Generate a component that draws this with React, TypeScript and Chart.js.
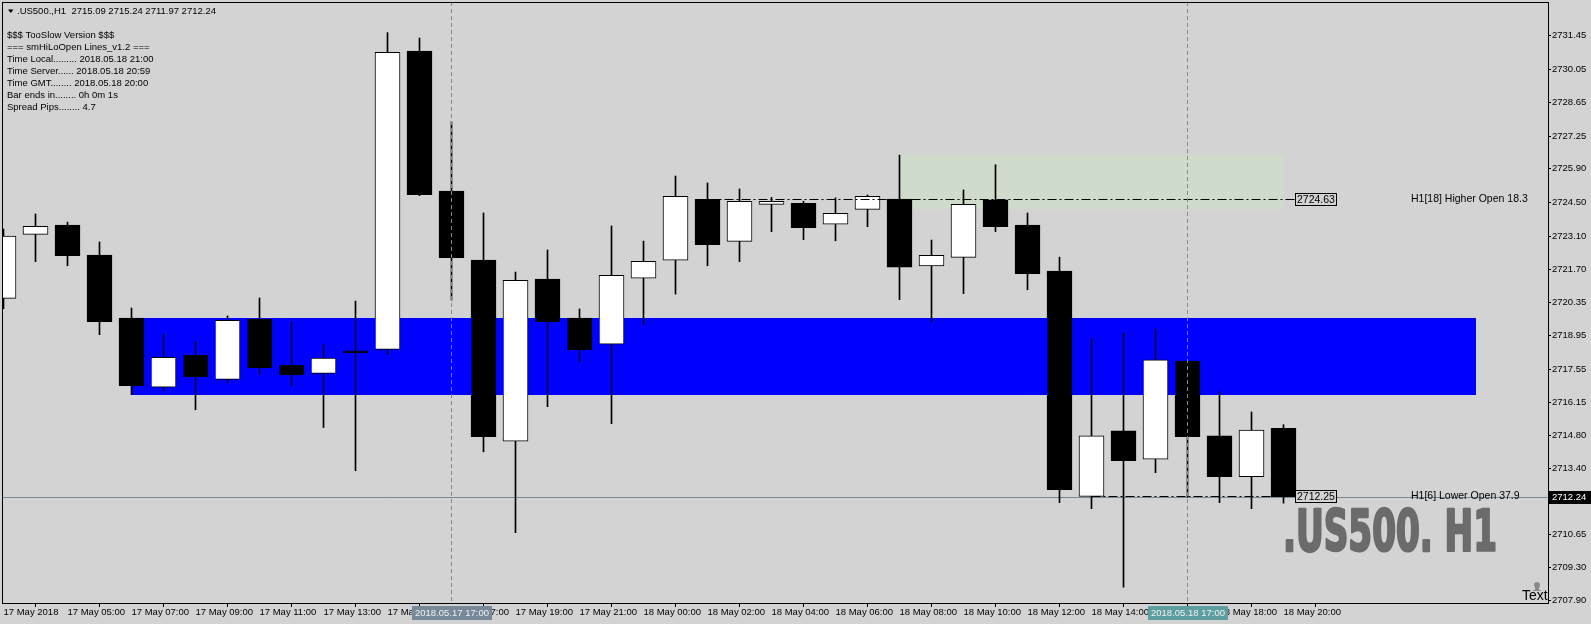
import React, { useEffect, useRef } from 'react';
import { Chart, registerables } from 'chart.js';

Chart.register(...registerables);

// ---- candle data (H1 bars, 17 May 03:00 .. 18 May 20:00) ----
const opens = [
  2720.50, 2723.17, 2723.56, 2722.31, 2719.68, 2716.80, 2718.13, 2717.13, 2719.63, 2717.71,
  2717.38, 2718.32, 2718.38, 2730.80, 2724.97, 2722.10, 2714.55, 2721.31, 2719.68, 2718.59,
  2721.34, 2722.09, 2724.63, 2722.88, 2724.42, 2724.46, 2723.59, 2724.21, 2724.64, 2721.85,
  2722.21, 2724.61, 2723.56, 2721.64, 2712.25, 2714.98, 2713.80, 2717.89, 2714.77, 2713.07,
  2715.09,
];
const highs = [
  2723.39, 2724.02, 2723.68, 2722.85, 2720.10, 2719.02, 2718.71, 2719.77, 2720.52, 2719.52,
  2718.60, 2720.39, 2731.58, 2731.35, 2727.86, 2724.06, 2721.60, 2722.52, 2720.06, 2723.52,
  2722.89, 2725.60, 2725.31, 2725.06, 2724.71, 2724.55, 2724.69, 2724.81, 2726.47, 2722.93,
  2725.02, 2726.07, 2724.06, 2722.22, 2718.81, 2719.06, 2719.23, 2717.89, 2716.61, 2715.77,
  2715.24,
];
const lows = [
  2720.07, 2722.03, 2721.86, 2718.99, 2716.49, 2716.66, 2715.86, 2716.98, 2717.35, 2716.86,
  2715.12, 2713.32, 2718.16, 2724.78, 2720.43, 2714.11, 2710.74, 2715.99, 2717.86, 2715.28,
  2719.41, 2720.68, 2721.86, 2722.03, 2723.28, 2722.95, 2722.90, 2723.49, 2720.45, 2719.53,
  2720.70, 2723.28, 2720.86, 2711.99, 2711.74, 2708.47, 2713.24, 2712.22, 2711.99, 2711.74,
  2711.97,
];
const closes = [
  2723.10, 2723.50, 2722.28, 2719.53, 2716.86, 2718.05, 2717.23, 2719.59, 2717.61, 2717.31,
  2718.01, 2718.24, 2730.75, 2724.82, 2722.20, 2714.74, 2721.25, 2719.53, 2718.36, 2721.46,
  2722.05, 2724.75, 2722.74, 2724.54, 2724.54, 2723.45, 2724.05, 2724.75, 2721.80, 2722.30,
  2724.42, 2723.49, 2721.53, 2712.53, 2714.77, 2713.74, 2717.94, 2714.74, 2713.07, 2715.01,
  2712.24,
];

// ---- axis ticks ----
const xTickBars = [0, 2, 4, 6, 8, 10, 12, 14, 16, 18, 20, 22, 24, 26, 28, 30, 32, 34, 36, 38, 40];
const xTickLabels = [
  '17 May 2018', '17 May 05:00', '17 May 07:00', '17 May 09:00', '17 May 11:00', '17 May 13:00',
  '17 May 15:00', '17 May 17:00', '17 May 19:00', '17 May 21:00', '18 May 00:00', '18 May 02:00',
  '18 May 04:00', '18 May 06:00', '18 May 08:00', '18 May 10:00', '18 May 12:00', '18 May 14:00',
  '18 May 16:00', '18 May 18:00', '18 May 20:00',
];
const yTickValues = [
  2731.45, 2730.05, 2728.65, 2727.25, 2725.90, 2724.50, 2723.10, 2721.70, 2720.35,
  2718.95, 2717.55, 2716.15, 2714.80, 2713.40, 2712.05, 2710.65, 2709.30, 2707.90,
];
const yMin = 2707.81;
const yMax = 2732.85;
const xMin = -0.046875;
const xMax = 48.265625;

// ---- indicator objects ----
const zoneStartBar = [4, 28];
const zoneEndBar = [46, 40];
const zoneHigh = [2719.68, 2726.47];
const zoneLow = [2716.49, 2724.22];

const openLineBar = [22, 34];
const openLinePrice = [2724.63, 2712.25];
const openLineText = ['H1[18] Higher Open 18.3', 'H1[6] Lower Open 37.9'];

const markerBar = [14, 37];
const markerText = ['2018.05.17 17:00', '2018.05.18 17:00'];

const currentPrice = 2712.24;
const headerText = '.US500.,H1  2715.09 2715.24 2711.97 2712.24';
const infoLines = [
  '$$$ TooSlow Version $$$',
  '=== smHiLoOpen Lines_v1.2 ===',
  'Time Local......... 2018.05.18 21:00',
  'Time Server...... 2018.05.18 20:59',
  'Time GMT........ 2018.05.18 20:00',
  'Bar ends in........ 0h 0m 1s',
  'Spread Pips........ 4.7',
];
const watermark = '.US500. H1';
const cornerText = 'Text';

const FONT = '"Liberation Sans", Arial, sans-serif';
const BG = '#d3d3d3';

const overlay = {
  id: 'mtOverlay',
  beforeDatasetsDraw(chart: any) {
    const { ctx, chartArea: a, scales } = chart;
    const x = scales.x;
    const y = scales.y;
    ctx.save();
    ctx.beginPath();
    ctx.rect(a.left, a.top, a.right - a.left, a.bottom - a.top);
    ctx.clip();
    const zoneColors = ['#0000ff', '#cfdbcb'];
    for (let k = 0; k < zoneStartBar.length; k++) {
      const x0 = Math.round(x.getPixelForValue(zoneStartBar[k]));
      const x1 = Math.round(x.getPixelForValue(zoneEndBar[k]));
      const y0 = Math.round(y.getPixelForValue(zoneHigh[k]));
      const y1 = Math.round(y.getPixelForValue(zoneLow[k]));
      ctx.fillStyle = zoneColors[k];
      ctx.fillRect(x0, y0, x1 - x0, y1 - y0);
    }
    const py = Math.round(y.getPixelForValue(currentPrice)) + 0.5;
    ctx.strokeStyle = '#778899';
    ctx.lineWidth = 1;
    ctx.beginPath();
    ctx.moveTo(a.left, py);
    ctx.lineTo(a.right, py);
    ctx.stroke();
    ctx.restore();
  },
  afterDatasetsDraw(chart: any) {
    const { ctx, chartArea: a, scales } = chart;
    const x = scales.x;
    const y = scales.y;
    ctx.save();
    ctx.beginPath();
    ctx.rect(a.left, a.top, a.right - a.left, a.bottom - a.top);
    ctx.clip();

    // open lines with price boxes
    const lastX = x.getPixelForValue(closes.length - 1);
    openLineBar.forEach((b, k) => {
      const ly = Math.round(y.getPixelForValue(openLinePrice[k])) + 0.5;
      const x0 = x.getPixelForValue(b);
      const boxX = Math.round(lastX) + 11;
      ctx.strokeStyle = '#000';
      ctx.lineWidth = 1;
      ctx.setLineDash([9, 3, 2, 3]);
      ctx.beginPath();
      ctx.moveTo(x0, ly);
      ctx.lineTo(boxX, ly);
      ctx.stroke();
      ctx.setLineDash([]);
      ctx.fillStyle = BG;
      ctx.fillRect(boxX, ly - 6.5, 42, 13);
      ctx.strokeRect(boxX + 0.5, ly - 6, 41, 12);
      ctx.fillStyle = '#000';
      ctx.font = `10.5px ${FONT}`;
      ctx.textBaseline = 'middle';
      ctx.textAlign = 'left';
      ctx.fillText(openLinePrice[k].toFixed(2), boxX + 2, ly + 0.5);
      ctx.font = `10.5px ${FONT}`;
      ctx.fillText(openLineText[k], a.right - 137, ly);
    });

    // vertical markers
    const markerColors = ['#7a8899', '#5f9ea0'];
    markerBar.forEach((b, k) => {
      const mx = Math.floor(x.getPixelForValue(b)) + 0.5;
      ctx.strokeStyle = markerColors[k];
      ctx.setLineDash([4, 3]);
      ctx.beginPath();
      ctx.moveTo(mx, a.top);
      ctx.lineTo(mx, a.bottom);
      ctx.stroke();
    });
    ctx.setLineDash([]);

    // header
    ctx.fillStyle = '#000';
    ctx.beginPath();
    ctx.moveTo(8, 9.5);
    ctx.lineTo(13.5, 9.5);
    ctx.lineTo(10.75, 13);
    ctx.closePath();
    ctx.fill();
    ctx.font = `9.5px ${FONT}`;
    ctx.textBaseline = 'middle';
    ctx.textAlign = 'left';
    ctx.fillText(headerText, 17, 11);
    infoLines.forEach((t, i) => {
      ctx.fillText(t, 7, 35.5 + i * 12);
    });

    // watermark
    ctx.save();
    ctx.fillStyle = '#6b6b6b';
    ctx.strokeStyle = '#6b6b6b';
    ctx.font = `bold 57px "DejaVu Sans Condensed", "DejaVu Sans", sans-serif`;
    ctx.textBaseline = 'alphabetic';
    const w = ctx.measureText(watermark).width;
    const wx = Math.round(lastX) - 1;
    ctx.translate(wx, 551);
    ctx.scale(214 / w, 1);
    ctx.lineWidth = 2.5;
    ctx.lineJoin = 'round';
    ctx.strokeText(watermark, 0, 0);
    ctx.fillText(watermark, 0, 0);
    ctx.restore();

    // corner "Text" with small skull
    ctx.fillStyle = '#000';
    ctx.font = `14px ${FONT}`;
    ctx.textBaseline = 'alphabetic';
    ctx.fillText(cornerText, a.right - 26, a.bottom - 3);
    ctx.fillStyle = '#8a8a8a';
    ctx.beginPath();
    ctx.arc(a.right - 11, a.bottom - 18, 3, 0, Math.PI * 2);
    ctx.fill();
    ctx.fillRect(a.right - 13, a.bottom - 16, 4, 3);
    ctx.fillRect(a.right - 15, a.bottom - 13, 8, 1);
    ctx.restore();

    // frame
    ctx.save();
    ctx.strokeStyle = '#000';
    ctx.lineWidth = 1;
    ctx.strokeRect(a.left + 0.5, a.top + 0.5, a.right - a.left, a.bottom - a.top);
    ctx.restore();
  },
  afterDraw(chart: any) {
    const { ctx, chartArea: a, scales } = chart;
    const x = scales.x;
    const y = scales.y;
    ctx.save();
    // date boxes under vertical markers
    const boxColors = ['#778899', '#5f9ea0'];
    ctx.font = `9.5px ${FONT}`;
    ctx.textBaseline = 'middle';
    ctx.textAlign = 'center';
    markerBar.forEach((b, k) => {
      const mx = Math.floor(x.getPixelForValue(b));
      ctx.fillStyle = boxColors[k];
      ctx.fillRect(mx - 39, a.bottom + 3, 80, 14);
      ctx.fillStyle = '#eef2f2';
      ctx.fillText(markerText[k], mx + 1, a.bottom + 10.5);
    });
    // current price box
    const py = Math.round(y.getPixelForValue(currentPrice));
    ctx.fillStyle = '#000';
    ctx.fillRect(a.right + 1, py - 6, 44, 13);
    ctx.fillStyle = '#fff';
    ctx.textAlign = 'left';
    ctx.font = `9.5px ${FONT}`;
    ctx.fillText(currentPrice.toFixed(2), a.right + 4, py + 0.5);
    ctx.restore();
  },
};

export default function App() {
  const ref = useRef<HTMLCanvasElement>(null);
  useEffect(() => {
    document.body.style.margin = '0';
    document.body.style.background = BG;
    const canvas = ref.current as HTMLCanvasElement;
    const idx = closes.map((_, i) => i);
    const bodyData = idx.map((i) => ({ x: i, y: [opens[i], closes[i]] }));
    const wickData = idx.map((i) => ({ x: i, y: [lows[i], highs[i]] }));
    const bodyFill = idx.map((i) => (closes[i] >= opens[i] ? '#ffffff' : '#000000'));

    const chart = new Chart(canvas, {
      type: 'bar',
      data: {
        datasets: [
          {
            label: 'body',
            data: bodyData as any,
            backgroundColor: bodyFill,
            borderColor: '#000000',
            borderWidth: 1,
            borderSkipped: false,
            barThickness: 25,
            grouped: false,
            order: 0,
          } as any,
          {
            label: 'wick',
            data: wickData as any,
            backgroundColor: '#000000',
            borderWidth: 0,
            barThickness: 1,
            grouped: false,
            order: 1,
          } as any,
        ],
      },
      options: {
        responsive: false,
        maintainAspectRatio: false,
        devicePixelRatio: 1,
        animation: false,
        events: [],
        layout: { padding: { left: 2, top: 2, right: 0, bottom: 0 } },
        plugins: { legend: { display: false }, tooltip: { enabled: false } },
        scales: {
          x: {
            type: 'linear',
            min: xMin,
            max: xMax,
            offset: false,
            afterBuildTicks: (s: any) => {
              s.ticks = xTickBars.map((v) => ({ value: v }));
            },
            afterFit: (s: any) => {
              s.height = 21;
              s.paddingLeft = 0;
              s.paddingRight = 0;
            },
            grid: { drawOnChartArea: false, color: '#000', tickLength: 4 },
            border: { display: false },
            ticks: {
              autoSkip: false,
              maxRotation: 0,
              minRotation: 0,
              align: 'start',
              padding: 0,
              color: '#000',
              font: { family: 'Liberation Sans', size: 9.5 },
              callback: (v: any) => {
                const k = xTickBars.indexOf(Number(v));
                return k >= 0 ? xTickLabels[k] : '';
              },
            },
          },
          y: {
            type: 'linear',
            position: 'right',
            min: yMin,
            max: yMax,
            afterBuildTicks: (s: any) => {
              s.ticks = yTickValues.map((v) => ({ value: v }));
            },
            afterFit: (s: any) => {
              s.width = 43;
              s.paddingTop = 0;
              s.paddingBottom = 0;
            },
            grid: { drawOnChartArea: false, color: '#000', tickLength: 3 },
            border: { display: false },
            ticks: {
              autoSkip: false,
              padding: 1,
              color: '#000',
              font: { family: 'Liberation Sans', size: 9.5 },
              callback: (v: any) => Number(v).toFixed(2),
            },
          },
        },
      } as any,
      plugins: [overlay],
    });
    return () => chart.destroy();
  }, []);

  return (
    <div style={{ position: 'fixed', left: 0, top: 0, width: 1591, height: 624, background: BG }}>
      <canvas ref={ref} width={1591} height={624} style={{ display: 'block', width: 1591, height: 624 }} />
    </div>
  );
}
